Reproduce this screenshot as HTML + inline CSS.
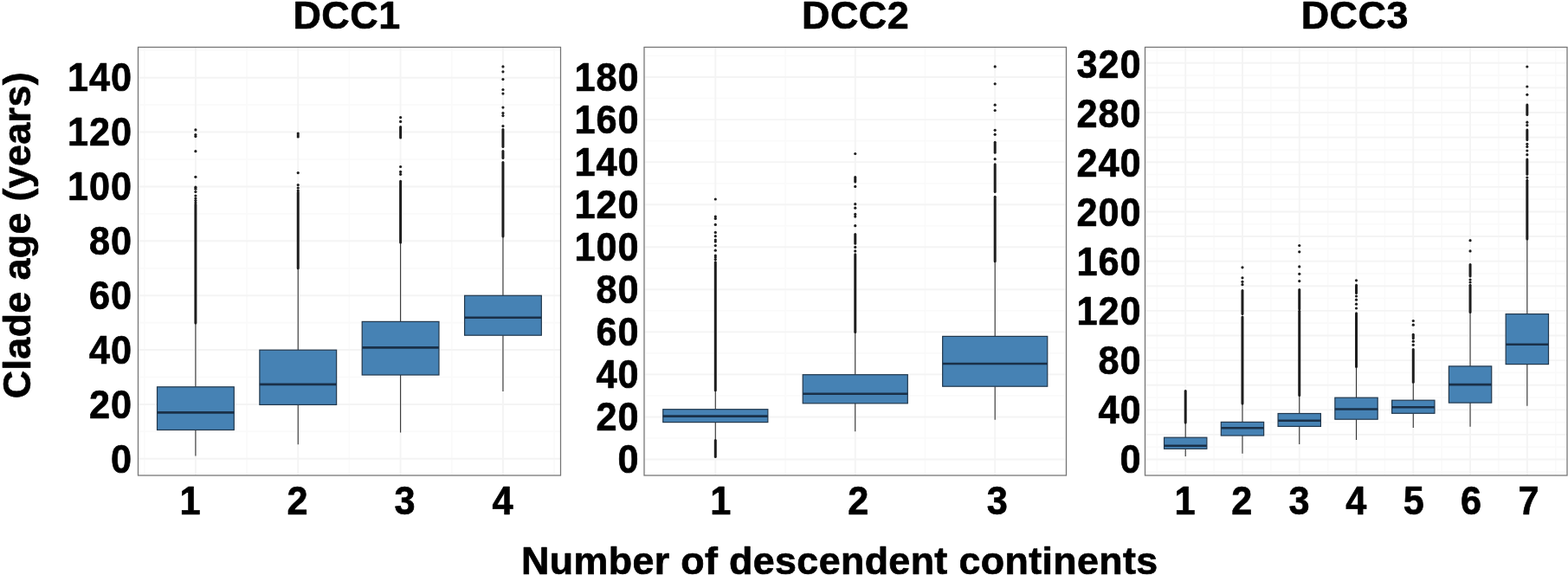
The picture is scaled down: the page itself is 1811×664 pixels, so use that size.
<!DOCTYPE html>
<html lang="en">
<head>
<meta charset="utf-8">
<title>Clade age by number of descendent continents</title>
<style>
html,body{margin:0;padding:0;background:#fff;}
body{width:1811px;height:664px;overflow:hidden;}
svg{display:block;filter:blur(0.45px);}
text{font-family:"Liberation Sans", sans-serif;font-weight:700;fill:#000;stroke:#000;stroke-width:0.7px;stroke-linejoin:round;}
.tick{font-size:46px;letter-spacing:1.06px;}
.xt{font-size:46px;letter-spacing:0;}
.title{font-size:44.9px;letter-spacing:0.5px;}
.axt{font-size:44.8px;letter-spacing:0.36px;}
</style>
</head>
<body>
<svg width="1811" height="664" viewBox="0 0 1811 664">
<rect x="0" y="0" width="1811" height="664" fill="#ffffff"/>

<g class="panel" id="DCC1">
<rect x="159.5" y="54.5" width="488" height="494.5" fill="#fff"/>
<g stroke="#fafafa" stroke-width="1.6"><line x1="159.5" x2="647.5" y1="498.36" y2="498.36"/><line x1="159.5" x2="647.5" y1="435.49" y2="435.49"/><line x1="159.5" x2="647.5" y1="372.62" y2="372.62"/><line x1="159.5" x2="647.5" y1="309.75" y2="309.75"/><line x1="159.5" x2="647.5" y1="246.88" y2="246.88"/><line x1="159.5" x2="647.5" y1="184" y2="184"/><line x1="159.5" x2="647.5" y1="121.13" y2="121.13"/><line x1="159.5" x2="647.5" y1="58.26" y2="58.26"/><line x1="166.73" x2="166.73" y1="54.5" y2="549"/><line x1="285.07" x2="285.07" y1="54.5" y2="549"/><line x1="403.42" x2="403.42" y1="54.5" y2="549"/><line x1="521.77" x2="521.77" y1="54.5" y2="549"/><line x1="640.12" x2="640.12" y1="54.5" y2="549"/></g>
<g stroke="#f4f4f4" stroke-width="1.9"><line x1="159.5" x2="647.5" y1="529.8" y2="529.8"/><line x1="159.5" x2="647.5" y1="466.93" y2="466.93"/><line x1="159.5" x2="647.5" y1="404.06" y2="404.06"/><line x1="159.5" x2="647.5" y1="341.18" y2="341.18"/><line x1="159.5" x2="647.5" y1="278.31" y2="278.31"/><line x1="159.5" x2="647.5" y1="215.44" y2="215.44"/><line x1="159.5" x2="647.5" y1="152.57" y2="152.57"/><line x1="159.5" x2="647.5" y1="89.7" y2="89.7"/><line x1="225.9" x2="225.9" y1="54.5" y2="549"/><line x1="344.25" x2="344.25" y1="54.5" y2="549"/><line x1="462.6" x2="462.6" y1="54.5" y2="549"/><line x1="580.95" x2="580.95" y1="54.5" y2="549"/></g>
<g>
<line x1="225.9" x2="225.9" y1="373" y2="446.8" stroke="#333333" stroke-width="1.1"/>
<line x1="225.9" x2="225.9" y1="496.5" y2="526.5" stroke="#333333" stroke-width="1.1"/>
<line x1="225.9" x2="225.9" y1="236" y2="373" stroke="#1e1e1e" stroke-width="3" stroke-linecap="round"/>
<circle cx="225.9" cy="149.9" r="1.6" fill="#1e1e1e"/>
<circle cx="225.9" cy="155.6" r="1.6" fill="#1e1e1e"/>
<circle cx="225.9" cy="157.6" r="1.6" fill="#1e1e1e"/>
<circle cx="225.9" cy="174.7" r="1.6" fill="#1e1e1e"/>
<circle cx="225.9" cy="204.3" r="1.6" fill="#1e1e1e"/>
<circle cx="225.9" cy="216.2" r="1.6" fill="#1e1e1e"/>
<circle cx="225.9" cy="218.2" r="1.6" fill="#1e1e1e"/>
<circle cx="225.9" cy="221.5" r="1.6" fill="#1e1e1e"/>
<circle cx="225.9" cy="226" r="1.6" fill="#1e1e1e"/>
<circle cx="225.9" cy="229" r="1.6" fill="#1e1e1e"/>
<circle cx="225.9" cy="231.6" r="1.6" fill="#1e1e1e"/>
<circle cx="225.9" cy="234" r="1.6" fill="#1e1e1e"/>
<rect x="181.52" y="446.8" width="88.76" height="49.7" fill="#4682b4" stroke="#22384d" stroke-width="1.2"/>
<line x1="181.52" x2="270.28" y1="476.4" y2="476.4" stroke="#1a3048" stroke-width="2.6"/>
</g>
<g>
<line x1="344.25" x2="344.25" y1="309.8" y2="404.2" stroke="#333333" stroke-width="1.1"/>
<line x1="344.25" x2="344.25" y1="467.4" y2="513.2" stroke="#333333" stroke-width="1.1"/>
<line x1="344.25" x2="344.25" y1="222" y2="309.8" stroke="#1e1e1e" stroke-width="3" stroke-linecap="round"/>
<circle cx="344.25" cy="154" r="1.6" fill="#1e1e1e"/>
<circle cx="344.25" cy="156" r="1.6" fill="#1e1e1e"/>
<circle cx="344.25" cy="158" r="1.6" fill="#1e1e1e"/>
<circle cx="344.25" cy="199.6" r="1.6" fill="#1e1e1e"/>
<circle cx="344.25" cy="213.6" r="1.6" fill="#1e1e1e"/>
<circle cx="344.25" cy="217" r="1.6" fill="#1e1e1e"/>
<circle cx="344.25" cy="220" r="1.6" fill="#1e1e1e"/>
<rect x="299.87" y="404.2" width="88.76" height="63.2" fill="#4682b4" stroke="#22384d" stroke-width="1.2"/>
<line x1="299.87" x2="388.63" y1="443.9" y2="443.9" stroke="#1a3048" stroke-width="2.6"/>
</g>
<g>
<line x1="462.6" x2="462.6" y1="279.9" y2="371.4" stroke="#333333" stroke-width="1.1"/>
<line x1="462.6" x2="462.6" y1="433" y2="499.5" stroke="#333333" stroke-width="1.1"/>
<line x1="462.6" x2="462.6" y1="209.2" y2="279.9" stroke="#1e1e1e" stroke-width="3" stroke-linecap="round"/>
<line x1="462.6" x2="462.6" y1="146.5" y2="158.9" stroke="#1e1e1e" stroke-width="3" stroke-linecap="round"/>
<circle cx="462.6" cy="135.6" r="1.6" fill="#1e1e1e"/>
<circle cx="462.6" cy="140.4" r="1.6" fill="#1e1e1e"/>
<circle cx="462.6" cy="192.5" r="1.6" fill="#1e1e1e"/>
<circle cx="462.6" cy="198.4" r="1.6" fill="#1e1e1e"/>
<circle cx="462.6" cy="201.3" r="1.6" fill="#1e1e1e"/>
<rect x="418.22" y="371.4" width="88.76" height="61.6" fill="#4682b4" stroke="#22384d" stroke-width="1.2"/>
<line x1="418.22" x2="506.98" y1="401.4" y2="401.4" stroke="#1a3048" stroke-width="2.6"/>
</g>
<g>
<line x1="580.95" x2="580.95" y1="273.1" y2="341.3" stroke="#333333" stroke-width="1.1"/>
<line x1="580.95" x2="580.95" y1="387.2" y2="452" stroke="#333333" stroke-width="1.1"/>
<line x1="580.95" x2="580.95" y1="149.5" y2="169.6" stroke="#1e1e1e" stroke-width="3" stroke-linecap="round"/>
<line x1="580.95" x2="580.95" y1="174.6" y2="182.6" stroke="#1e1e1e" stroke-width="3" stroke-linecap="round"/>
<line x1="580.95" x2="580.95" y1="187.6" y2="273.1" stroke="#1e1e1e" stroke-width="3" stroke-linecap="round"/>
<circle cx="580.95" cy="76.9" r="1.6" fill="#1e1e1e"/>
<circle cx="580.95" cy="82.8" r="1.6" fill="#1e1e1e"/>
<circle cx="580.95" cy="91.6" r="1.6" fill="#1e1e1e"/>
<circle cx="580.95" cy="103.5" r="1.6" fill="#1e1e1e"/>
<circle cx="580.95" cy="108.1" r="1.6" fill="#1e1e1e"/>
<circle cx="580.95" cy="124.1" r="1.6" fill="#1e1e1e"/>
<circle cx="580.95" cy="130.6" r="1.6" fill="#1e1e1e"/>
<circle cx="580.95" cy="133.6" r="1.6" fill="#1e1e1e"/>
<circle cx="580.95" cy="145.6" r="1.6" fill="#1e1e1e"/>
<rect x="536.57" y="341.3" width="88.76" height="45.9" fill="#4682b4" stroke="#22384d" stroke-width="1.2"/>
<line x1="536.57" x2="625.33" y1="366.8" y2="366.8" stroke="#1a3048" stroke-width="2.6"/>
</g>
<rect x="159.5" y="54.5" width="488" height="494.5" fill="none" stroke="#747474" stroke-width="1.25"/>
<text class="tick" transform="translate(153.1,546) scale(0.94,1)" text-anchor="end">0</text>
<text class="tick" transform="translate(153.1,483.02) scale(0.94,1)" text-anchor="end">20</text>
<text class="tick" transform="translate(153.1,420.04) scale(0.94,1)" text-anchor="end">40</text>
<text class="tick" transform="translate(153.1,357.06) scale(0.94,1)" text-anchor="end">60</text>
<text class="tick" transform="translate(153.1,294.08) scale(0.94,1)" text-anchor="end">80</text>
<text class="tick" transform="translate(153.1,231.1) scale(0.94,1)" text-anchor="end">100</text>
<text class="tick" transform="translate(153.1,168.12) scale(0.94,1)" text-anchor="end">120</text>
<text class="tick" transform="translate(153.1,105.14) scale(0.94,1)" text-anchor="end">140</text>
<text class="tick xt" transform="translate(219.6,594) scale(0.94,1)" text-anchor="middle">1</text>
<text class="tick xt" transform="translate(343.55,594) scale(0.94,1)" text-anchor="middle">2</text>
<text class="tick xt" transform="translate(467.6,594) scale(0.94,1)" text-anchor="middle">3</text>
<text class="tick xt" transform="translate(580.45,594) scale(0.94,1)" text-anchor="middle">4</text>
<text class="title" x="338.4" y="33">DCC1</text>
</g>
<g class="panel" id="DCC2">
<rect x="744" y="54.5" width="487.5" height="494.5" fill="#fff"/>
<g stroke="#fafafa" stroke-width="1.6"><line x1="744" x2="1231.5" y1="505.98" y2="505.98"/><line x1="744" x2="1231.5" y1="456.93" y2="456.93"/><line x1="744" x2="1231.5" y1="407.88" y2="407.88"/><line x1="744" x2="1231.5" y1="358.82" y2="358.82"/><line x1="744" x2="1231.5" y1="309.77" y2="309.77"/><line x1="744" x2="1231.5" y1="260.72" y2="260.72"/><line x1="744" x2="1231.5" y1="211.68" y2="211.68"/><line x1="744" x2="1231.5" y1="162.62" y2="162.62"/><line x1="744" x2="1231.5" y1="113.57" y2="113.57"/><line x1="744" x2="1231.5" y1="64.52" y2="64.52"/><line x1="745.57" x2="745.57" y1="54.5" y2="549"/><line x1="907.02" x2="907.02" y1="54.5" y2="549"/><line x1="1068.47" x2="1068.47" y1="54.5" y2="549"/><line x1="1229.92" x2="1229.92" y1="54.5" y2="549"/></g>
<g stroke="#f4f4f4" stroke-width="1.9"><line x1="744" x2="1231.5" y1="530.5" y2="530.5"/><line x1="744" x2="1231.5" y1="481.45" y2="481.45"/><line x1="744" x2="1231.5" y1="432.4" y2="432.4"/><line x1="744" x2="1231.5" y1="383.35" y2="383.35"/><line x1="744" x2="1231.5" y1="334.3" y2="334.3"/><line x1="744" x2="1231.5" y1="285.25" y2="285.25"/><line x1="744" x2="1231.5" y1="236.2" y2="236.2"/><line x1="744" x2="1231.5" y1="187.15" y2="187.15"/><line x1="744" x2="1231.5" y1="138.1" y2="138.1"/><line x1="744" x2="1231.5" y1="89.05" y2="89.05"/><line x1="826.3" x2="826.3" y1="54.5" y2="549"/><line x1="987.75" x2="987.75" y1="54.5" y2="549"/><line x1="1149.2" x2="1149.2" y1="54.5" y2="549"/></g>
<g>
<line x1="826.3" x2="826.3" y1="450.8" y2="472.7" stroke="#333333" stroke-width="1.1"/>
<line x1="826.3" x2="826.3" y1="487.6" y2="508.4" stroke="#333333" stroke-width="1.1"/>
<line x1="826.3" x2="826.3" y1="302.8" y2="450.8" stroke="#1e1e1e" stroke-width="3" stroke-linecap="round"/>
<line x1="826.3" x2="826.3" y1="508.4" y2="527.6" stroke="#1e1e1e" stroke-width="3" stroke-linecap="round"/>
<circle cx="826.3" cy="230" r="1.6" fill="#1e1e1e"/>
<circle cx="826.3" cy="250.1" r="1.6" fill="#1e1e1e"/>
<circle cx="826.3" cy="252.4" r="1.6" fill="#1e1e1e"/>
<circle cx="826.3" cy="259.4" r="1.6" fill="#1e1e1e"/>
<circle cx="826.3" cy="268.4" r="1.6" fill="#1e1e1e"/>
<circle cx="826.3" cy="272.7" r="1.6" fill="#1e1e1e"/>
<circle cx="826.3" cy="277" r="1.6" fill="#1e1e1e"/>
<circle cx="826.3" cy="279" r="1.6" fill="#1e1e1e"/>
<circle cx="826.3" cy="283.6" r="1.6" fill="#1e1e1e"/>
<circle cx="826.3" cy="289.2" r="1.6" fill="#1e1e1e"/>
<circle cx="826.3" cy="295" r="1.6" fill="#1e1e1e"/>
<circle cx="826.3" cy="297" r="1.6" fill="#1e1e1e"/>
<circle cx="826.3" cy="299.6" r="1.6" fill="#1e1e1e"/>
<rect x="765.76" y="472.7" width="121.09" height="14.9" fill="#4682b4" stroke="#22384d" stroke-width="1.2"/>
<line x1="765.76" x2="886.84" y1="480.6" y2="480.6" stroke="#1a3048" stroke-width="2.6"/>
</g>
<g>
<line x1="987.75" x2="987.75" y1="383.5" y2="432.7" stroke="#333333" stroke-width="1.1"/>
<line x1="987.75" x2="987.75" y1="465.8" y2="498.2" stroke="#333333" stroke-width="1.1"/>
<line x1="987.75" x2="987.75" y1="293.7" y2="383.5" stroke="#1e1e1e" stroke-width="3" stroke-linecap="round"/>
<line x1="987.75" x2="987.75" y1="270.5" y2="281.3" stroke="#1e1e1e" stroke-width="3" stroke-linecap="round"/>
<line x1="987.75" x2="987.75" y1="204.5" y2="210" stroke="#1e1e1e" stroke-width="3" stroke-linecap="round"/>
<circle cx="987.75" cy="177.5" r="1.6" fill="#1e1e1e"/>
<circle cx="987.75" cy="215.4" r="1.6" fill="#1e1e1e"/>
<circle cx="987.75" cy="235.7" r="1.6" fill="#1e1e1e"/>
<circle cx="987.75" cy="240.2" r="1.6" fill="#1e1e1e"/>
<circle cx="987.75" cy="247.4" r="1.6" fill="#1e1e1e"/>
<circle cx="987.75" cy="250.1" r="1.6" fill="#1e1e1e"/>
<circle cx="987.75" cy="260.7" r="1.6" fill="#1e1e1e"/>
<circle cx="987.75" cy="285.4" r="1.6" fill="#1e1e1e"/>
<circle cx="987.75" cy="289.9" r="1.6" fill="#1e1e1e"/>
<rect x="927.21" y="432.7" width="121.09" height="33.1" fill="#4682b4" stroke="#22384d" stroke-width="1.2"/>
<line x1="927.21" x2="1048.29" y1="454.8" y2="454.8" stroke="#1a3048" stroke-width="2.6"/>
</g>
<g>
<line x1="1149.2" x2="1149.2" y1="301.8" y2="388.4" stroke="#333333" stroke-width="1.1"/>
<line x1="1149.2" x2="1149.2" y1="446.2" y2="484.8" stroke="#333333" stroke-width="1.1"/>
<line x1="1149.2" x2="1149.2" y1="227.3" y2="301.8" stroke="#1e1e1e" stroke-width="3" stroke-linecap="round"/>
<line x1="1149.2" x2="1149.2" y1="189.8" y2="221.6" stroke="#1e1e1e" stroke-width="3" stroke-linecap="round"/>
<line x1="1149.2" x2="1149.2" y1="164.3" y2="176.3" stroke="#1e1e1e" stroke-width="3" stroke-linecap="round"/>
<circle cx="1149.2" cy="76.9" r="1.6" fill="#1e1e1e"/>
<circle cx="1149.2" cy="96.8" r="1.6" fill="#1e1e1e"/>
<circle cx="1149.2" cy="121.2" r="1.6" fill="#1e1e1e"/>
<circle cx="1149.2" cy="127.5" r="1.6" fill="#1e1e1e"/>
<circle cx="1149.2" cy="150.3" r="1.6" fill="#1e1e1e"/>
<circle cx="1149.2" cy="155.3" r="1.6" fill="#1e1e1e"/>
<circle cx="1149.2" cy="183.7" r="1.6" fill="#1e1e1e"/>
<rect x="1088.66" y="388.4" width="121.09" height="57.8" fill="#4682b4" stroke="#22384d" stroke-width="1.2"/>
<line x1="1088.66" x2="1209.74" y1="420" y2="420" stroke="#1a3048" stroke-width="2.6"/>
</g>
<rect x="744" y="54.5" width="487.5" height="494.5" fill="none" stroke="#747474" stroke-width="1.25"/>
<text class="tick" transform="translate(738.5,546) scale(0.94,1)" text-anchor="end">0</text>
<text class="tick" transform="translate(738.5,497) scale(0.94,1)" text-anchor="end">20</text>
<text class="tick" transform="translate(738.5,448) scale(0.94,1)" text-anchor="end">40</text>
<text class="tick" transform="translate(738.5,399) scale(0.94,1)" text-anchor="end">60</text>
<text class="tick" transform="translate(738.5,350) scale(0.94,1)" text-anchor="end">80</text>
<text class="tick" transform="translate(738.5,301) scale(0.94,1)" text-anchor="end">100</text>
<text class="tick" transform="translate(738.5,252) scale(0.94,1)" text-anchor="end">120</text>
<text class="tick" transform="translate(738.5,203) scale(0.94,1)" text-anchor="end">140</text>
<text class="tick" transform="translate(738.5,154) scale(0.94,1)" text-anchor="end">160</text>
<text class="tick" transform="translate(738.5,105) scale(0.94,1)" text-anchor="end">180</text>
<text class="tick xt" transform="translate(832.3,594) scale(0.94,1)" text-anchor="middle">1</text>
<text class="tick xt" transform="translate(991.15,594) scale(0.94,1)" text-anchor="middle">2</text>
<text class="tick xt" transform="translate(1151.7,594) scale(0.94,1)" text-anchor="middle">3</text>
<text class="title" x="926" y="33">DCC2</text>
</g>
<g class="panel" id="DCC3">
<rect x="1322.5" y="54.5" width="487.5" height="494.5" fill="#fff"/>
<g stroke="#fafafa" stroke-width="1.6"><line x1="1322.5" x2="1810" y1="544.8" y2="544.8"/><line x1="1322.5" x2="1810" y1="516.2" y2="516.2"/><line x1="1322.5" x2="1810" y1="487.59" y2="487.59"/><line x1="1322.5" x2="1810" y1="458.99" y2="458.99"/><line x1="1322.5" x2="1810" y1="430.38" y2="430.38"/><line x1="1322.5" x2="1810" y1="401.77" y2="401.77"/><line x1="1322.5" x2="1810" y1="373.17" y2="373.17"/><line x1="1322.5" x2="1810" y1="344.56" y2="344.56"/><line x1="1322.5" x2="1810" y1="315.96" y2="315.96"/><line x1="1322.5" x2="1810" y1="287.35" y2="287.35"/><line x1="1322.5" x2="1810" y1="258.74" y2="258.74"/><line x1="1322.5" x2="1810" y1="230.14" y2="230.14"/><line x1="1322.5" x2="1810" y1="201.53" y2="201.53"/><line x1="1322.5" x2="1810" y1="172.93" y2="172.93"/><line x1="1322.5" x2="1810" y1="144.32" y2="144.32"/><line x1="1322.5" x2="1810" y1="115.71" y2="115.71"/><line x1="1322.5" x2="1810" y1="87.11" y2="87.11"/><line x1="1322.5" x2="1810" y1="58.5" y2="58.5"/><line x1="1336.32" x2="1336.32" y1="54.5" y2="549"/><line x1="1402.09" x2="1402.09" y1="54.5" y2="549"/><line x1="1467.86" x2="1467.86" y1="54.5" y2="549"/><line x1="1533.62" x2="1533.62" y1="54.5" y2="549"/><line x1="1599.39" x2="1599.39" y1="54.5" y2="549"/><line x1="1665.16" x2="1665.16" y1="54.5" y2="549"/><line x1="1730.93" x2="1730.93" y1="54.5" y2="549"/><line x1="1796.7" x2="1796.7" y1="54.5" y2="549"/></g>
<g stroke="#f4f4f4" stroke-width="1.9"><line x1="1322.5" x2="1810" y1="530.5" y2="530.5"/><line x1="1322.5" x2="1810" y1="501.89" y2="501.89"/><line x1="1322.5" x2="1810" y1="473.29" y2="473.29"/><line x1="1322.5" x2="1810" y1="444.68" y2="444.68"/><line x1="1322.5" x2="1810" y1="416.08" y2="416.08"/><line x1="1322.5" x2="1810" y1="387.47" y2="387.47"/><line x1="1322.5" x2="1810" y1="358.86" y2="358.86"/><line x1="1322.5" x2="1810" y1="330.26" y2="330.26"/><line x1="1322.5" x2="1810" y1="301.65" y2="301.65"/><line x1="1322.5" x2="1810" y1="273.05" y2="273.05"/><line x1="1322.5" x2="1810" y1="244.44" y2="244.44"/><line x1="1322.5" x2="1810" y1="215.83" y2="215.83"/><line x1="1322.5" x2="1810" y1="187.23" y2="187.23"/><line x1="1322.5" x2="1810" y1="158.62" y2="158.62"/><line x1="1322.5" x2="1810" y1="130.02" y2="130.02"/><line x1="1322.5" x2="1810" y1="101.41" y2="101.41"/><line x1="1322.5" x2="1810" y1="72.8" y2="72.8"/><line x1="1369.2" x2="1369.2" y1="54.5" y2="549"/><line x1="1434.97" x2="1434.97" y1="54.5" y2="549"/><line x1="1500.74" x2="1500.74" y1="54.5" y2="549"/><line x1="1566.51" x2="1566.51" y1="54.5" y2="549"/><line x1="1632.28" x2="1632.28" y1="54.5" y2="549"/><line x1="1698.05" x2="1698.05" y1="54.5" y2="549"/><line x1="1763.82" x2="1763.82" y1="54.5" y2="549"/></g>
<g>
<line x1="1369.2" x2="1369.2" y1="488" y2="505.2" stroke="#333333" stroke-width="1.1"/>
<line x1="1369.2" x2="1369.2" y1="518.3" y2="526.9" stroke="#333333" stroke-width="1.1"/>
<line x1="1369.2" x2="1369.2" y1="451.5" y2="488" stroke="#1e1e1e" stroke-width="3" stroke-linecap="round"/>
<rect x="1344.54" y="505.2" width="49.33" height="13.1" fill="#4682b4" stroke="#22384d" stroke-width="1.2"/>
<line x1="1344.54" x2="1393.86" y1="514.7" y2="514.7" stroke="#1a3048" stroke-width="2.6"/>
</g>
<g>
<line x1="1434.97" x2="1434.97" y1="465.9" y2="487.4" stroke="#333333" stroke-width="1.1"/>
<line x1="1434.97" x2="1434.97" y1="503" y2="523.8" stroke="#333333" stroke-width="1.1"/>
<line x1="1434.97" x2="1434.97" y1="366" y2="465.9" stroke="#1e1e1e" stroke-width="3" stroke-linecap="round"/>
<line x1="1434.97" x2="1434.97" y1="335.5" y2="362.6" stroke="#1e1e1e" stroke-width="3" stroke-linecap="round"/>
<circle cx="1434.97" cy="308.8" r="1.6" fill="#1e1e1e"/>
<circle cx="1434.97" cy="320.8" r="1.6" fill="#1e1e1e"/>
<circle cx="1434.97" cy="325.3" r="1.6" fill="#1e1e1e"/>
<circle cx="1434.97" cy="328.7" r="1.6" fill="#1e1e1e"/>
<rect x="1410.31" y="487.4" width="49.33" height="15.6" fill="#4682b4" stroke="#22384d" stroke-width="1.2"/>
<line x1="1410.31" x2="1459.63" y1="494.2" y2="494.2" stroke="#1a3048" stroke-width="2.6"/>
</g>
<g>
<line x1="1500.74" x2="1500.74" y1="456.5" y2="477.5" stroke="#333333" stroke-width="1.1"/>
<line x1="1500.74" x2="1500.74" y1="492.4" y2="512.9" stroke="#333333" stroke-width="1.1"/>
<line x1="1500.74" x2="1500.74" y1="359.2" y2="456.5" stroke="#1e1e1e" stroke-width="3" stroke-linecap="round"/>
<line x1="1500.74" x2="1500.74" y1="334.4" y2="357" stroke="#1e1e1e" stroke-width="3" stroke-linecap="round"/>
<circle cx="1500.74" cy="283.5" r="1.6" fill="#1e1e1e"/>
<circle cx="1500.74" cy="290.8" r="1.6" fill="#1e1e1e"/>
<circle cx="1500.74" cy="307.9" r="1.6" fill="#1e1e1e"/>
<circle cx="1500.74" cy="316.3" r="1.6" fill="#1e1e1e"/>
<circle cx="1500.74" cy="324.6" r="1.6" fill="#1e1e1e"/>
<rect x="1476.08" y="477.5" width="49.33" height="14.9" fill="#4682b4" stroke="#22384d" stroke-width="1.2"/>
<line x1="1476.08" x2="1525.4" y1="485.8" y2="485.8" stroke="#1a3048" stroke-width="2.6"/>
</g>
<g>
<line x1="1566.51" x2="1566.51" y1="423.6" y2="459.2" stroke="#333333" stroke-width="1.1"/>
<line x1="1566.51" x2="1566.51" y1="484.2" y2="508" stroke="#333333" stroke-width="1.1"/>
<line x1="1566.51" x2="1566.51" y1="361.7" y2="423.6" stroke="#1e1e1e" stroke-width="3" stroke-linecap="round"/>
<line x1="1566.51" x2="1566.51" y1="329.2" y2="338.5" stroke="#1e1e1e" stroke-width="3" stroke-linecap="round"/>
<circle cx="1566.51" cy="323.8" r="1.6" fill="#1e1e1e"/>
<circle cx="1566.51" cy="342" r="1.6" fill="#1e1e1e"/>
<circle cx="1566.51" cy="346.2" r="1.6" fill="#1e1e1e"/>
<circle cx="1566.51" cy="351.2" r="1.6" fill="#1e1e1e"/>
<circle cx="1566.51" cy="356" r="1.6" fill="#1e1e1e"/>
<rect x="1541.85" y="459.2" width="49.33" height="25" fill="#4682b4" stroke="#22384d" stroke-width="1.2"/>
<line x1="1541.85" x2="1591.17" y1="472.5" y2="472.5" stroke="#1a3048" stroke-width="2.6"/>
</g>
<g>
<line x1="1632.28" x2="1632.28" y1="441.2" y2="462.2" stroke="#333333" stroke-width="1.1"/>
<line x1="1632.28" x2="1632.28" y1="477.3" y2="494" stroke="#333333" stroke-width="1.1"/>
<line x1="1632.28" x2="1632.28" y1="403.5" y2="441.2" stroke="#1e1e1e" stroke-width="3" stroke-linecap="round"/>
<line x1="1632.28" x2="1632.28" y1="386.3" y2="390.8" stroke="#1e1e1e" stroke-width="3" stroke-linecap="round"/>
<circle cx="1632.28" cy="370.5" r="1.6" fill="#1e1e1e"/>
<circle cx="1632.28" cy="375.2" r="1.6" fill="#1e1e1e"/>
<circle cx="1632.28" cy="394.2" r="1.6" fill="#1e1e1e"/>
<circle cx="1632.28" cy="398.3" r="1.6" fill="#1e1e1e"/>
<rect x="1607.62" y="462.2" width="49.33" height="15.1" fill="#4682b4" stroke="#22384d" stroke-width="1.2"/>
<line x1="1607.62" x2="1656.94" y1="470.3" y2="470.3" stroke="#1a3048" stroke-width="2.6"/>
</g>
<g>
<line x1="1698.05" x2="1698.05" y1="360.5" y2="422.9" stroke="#333333" stroke-width="1.1"/>
<line x1="1698.05" x2="1698.05" y1="465.1" y2="492.7" stroke="#333333" stroke-width="1.1"/>
<line x1="1698.05" x2="1698.05" y1="329.2" y2="360.5" stroke="#1e1e1e" stroke-width="3" stroke-linecap="round"/>
<line x1="1698.05" x2="1698.05" y1="305.5" y2="319" stroke="#1e1e1e" stroke-width="3" stroke-linecap="round"/>
<circle cx="1698.05" cy="277.7" r="1.6" fill="#1e1e1e"/>
<circle cx="1698.05" cy="289.9" r="1.6" fill="#1e1e1e"/>
<circle cx="1698.05" cy="323" r="1.6" fill="#1e1e1e"/>
<circle cx="1698.05" cy="326" r="1.6" fill="#1e1e1e"/>
<rect x="1673.39" y="422.9" width="49.33" height="42.2" fill="#4682b4" stroke="#22384d" stroke-width="1.2"/>
<line x1="1673.39" x2="1722.71" y1="444.1" y2="444.1" stroke="#1a3048" stroke-width="2.6"/>
</g>
<g>
<line x1="1763.82" x2="1763.82" y1="276.1" y2="362.6" stroke="#333333" stroke-width="1.1"/>
<line x1="1763.82" x2="1763.82" y1="420.6" y2="468.7" stroke="#333333" stroke-width="1.1"/>
<line x1="1763.82" x2="1763.82" y1="208.2" y2="276.1" stroke="#1e1e1e" stroke-width="3" stroke-linecap="round"/>
<line x1="1763.82" x2="1763.82" y1="184.1" y2="201.2" stroke="#1e1e1e" stroke-width="3" stroke-linecap="round"/>
<line x1="1763.82" x2="1763.82" y1="150" y2="161.6" stroke="#1e1e1e" stroke-width="3" stroke-linecap="round"/>
<line x1="1763.82" x2="1763.82" y1="121" y2="132.6" stroke="#1e1e1e" stroke-width="3" stroke-linecap="round"/>
<circle cx="1763.82" cy="77" r="1.6" fill="#1e1e1e"/>
<circle cx="1763.82" cy="100" r="1.6" fill="#1e1e1e"/>
<circle cx="1763.82" cy="109.3" r="1.6" fill="#1e1e1e"/>
<circle cx="1763.82" cy="141.2" r="1.6" fill="#1e1e1e"/>
<circle cx="1763.82" cy="144.7" r="1.6" fill="#1e1e1e"/>
<circle cx="1763.82" cy="166.3" r="1.6" fill="#1e1e1e"/>
<circle cx="1763.82" cy="169.4" r="1.6" fill="#1e1e1e"/>
<circle cx="1763.82" cy="174" r="1.6" fill="#1e1e1e"/>
<circle cx="1763.82" cy="178.7" r="1.6" fill="#1e1e1e"/>
<circle cx="1763.82" cy="205.1" r="1.6" fill="#1e1e1e"/>
<rect x="1739.16" y="362.6" width="49.33" height="58" fill="#4682b4" stroke="#22384d" stroke-width="1.2"/>
<line x1="1739.16" x2="1788.48" y1="397.8" y2="397.8" stroke="#1a3048" stroke-width="2.6"/>
</g>
<rect x="1322.5" y="54.5" width="487.5" height="494.5" fill="none" stroke="#747474" stroke-width="1.25"/>
<text class="tick" transform="translate(1318.5,546) scale(0.94,1)" text-anchor="end">0</text>
<text class="tick" transform="translate(1318.5,489.02) scale(0.94,1)" text-anchor="end">40</text>
<text class="tick" transform="translate(1318.5,432.04) scale(0.94,1)" text-anchor="end">80</text>
<text class="tick" transform="translate(1318.5,375.06) scale(0.94,1)" text-anchor="end">120</text>
<text class="tick" transform="translate(1318.5,318.08) scale(0.94,1)" text-anchor="end">160</text>
<text class="tick" transform="translate(1318.5,261.1) scale(0.94,1)" text-anchor="end">200</text>
<text class="tick" transform="translate(1318.5,204.12) scale(0.94,1)" text-anchor="end">240</text>
<text class="tick" transform="translate(1318.5,147.14) scale(0.94,1)" text-anchor="end">280</text>
<text class="tick" transform="translate(1318.5,90.16) scale(0.94,1)" text-anchor="end">320</text>
<text class="tick xt" transform="translate(1368.6,594) scale(0.94,1)" text-anchor="middle">1</text>
<text class="tick xt" transform="translate(1434.37,594) scale(0.94,1)" text-anchor="middle">2</text>
<text class="tick xt" transform="translate(1500.54,594) scale(0.94,1)" text-anchor="middle">3</text>
<text class="tick xt" transform="translate(1566.31,594) scale(0.94,1)" text-anchor="middle">4</text>
<text class="tick xt" transform="translate(1632.88,594) scale(0.94,1)" text-anchor="middle">5</text>
<text class="tick xt" transform="translate(1699.05,594) scale(0.94,1)" text-anchor="middle">6</text>
<text class="tick xt" transform="translate(1765.47,594) scale(0.94,1)" text-anchor="middle">7</text>
<text class="title" x="1502.7" y="33">DCC3</text>
</g>
<text class="axt" x="969.8" y="663" text-anchor="middle">Number of descendent continents</text>
<text class="axt" transform="translate(34.6,271.6) rotate(-90)" text-anchor="middle">Clade age (years)</text>
</svg>
</body>
</html>
